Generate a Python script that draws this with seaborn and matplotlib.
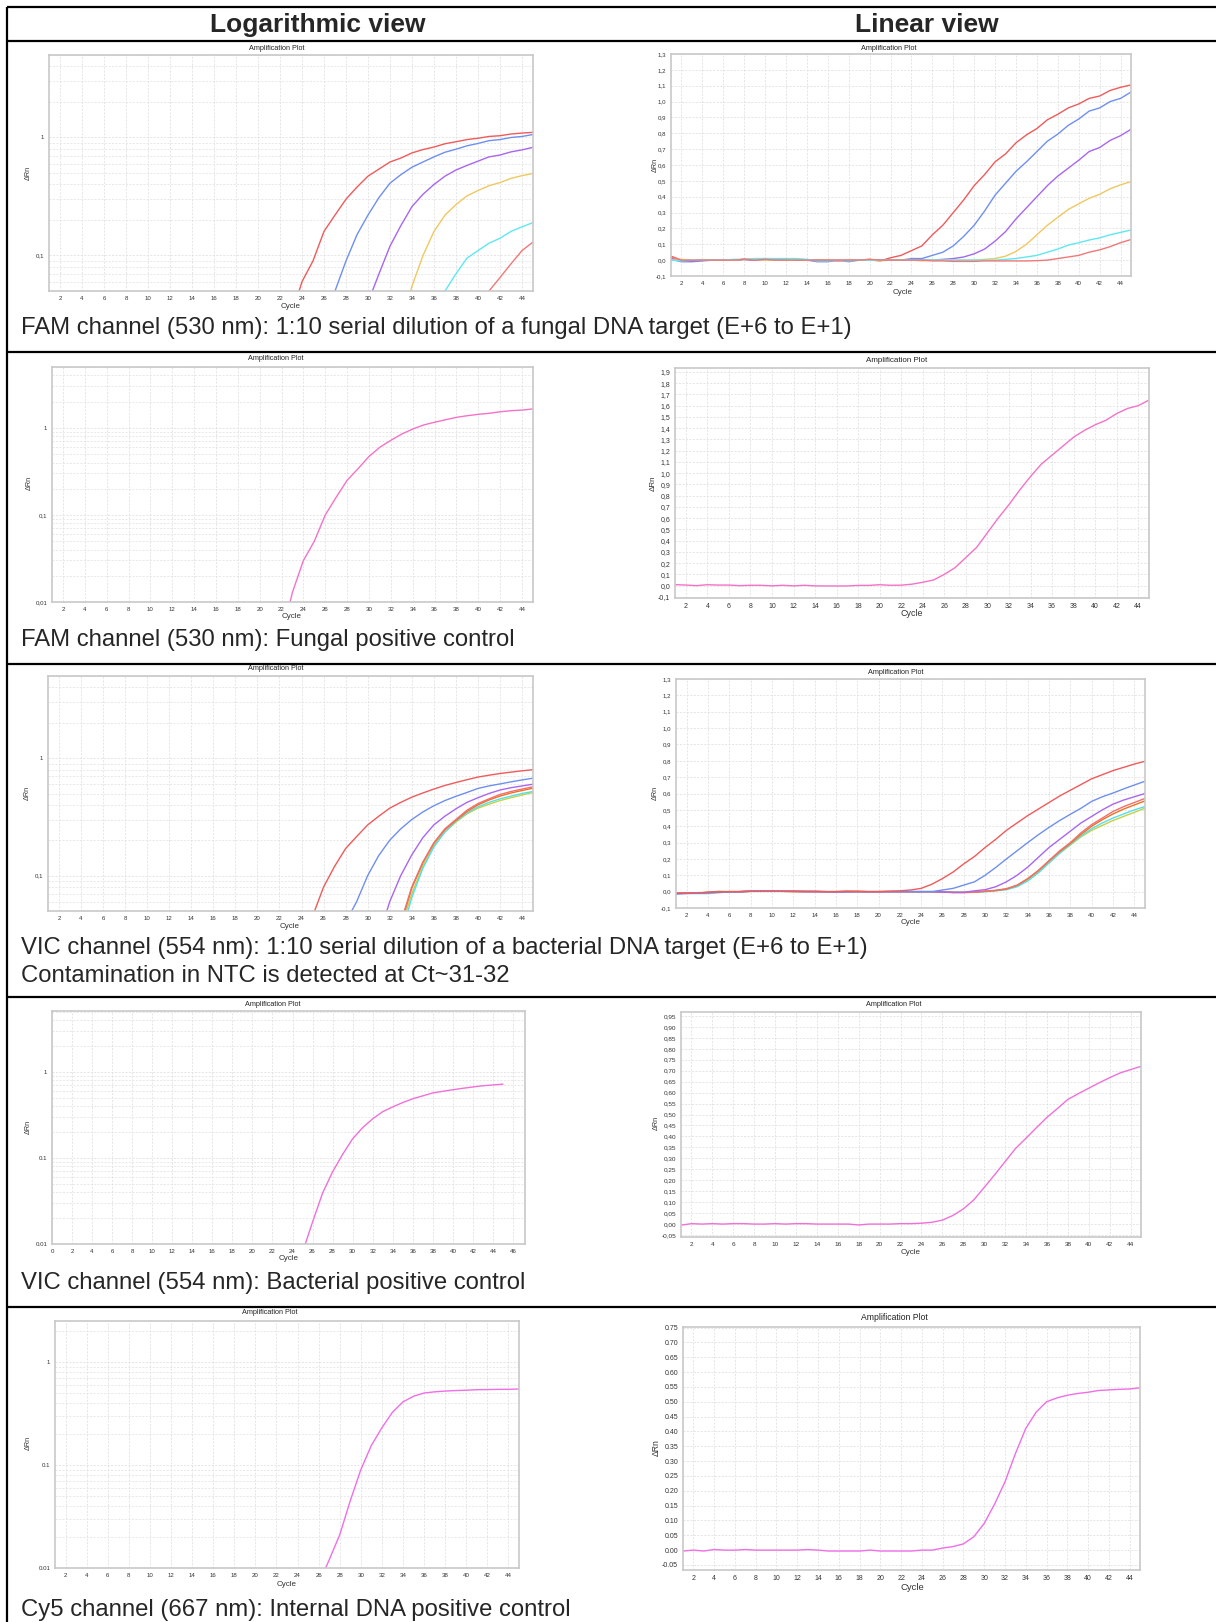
import numpy as np
import pandas as pd
import matplotlib
matplotlib.use("Agg")
import matplotlib.pyplot as plt
import seaborn as sns
from matplotlib.ticker import MultipleLocator, FixedLocator, LogLocator, FuncFormatter, NullFormatter

# cycles 1..45
cycles = list(range(1, 46))

# FAM channel, fungal 1:10 dilution (E+6 .. E+1)
fam_e6 = [0.025, 0.0, -0.005, 0.0, 0.0, 0.0, 0.0, 0.005, 0.0, 0.005,
          0.0, 0.005, 0.0, 0.0, 0.0, 0.0, -0.005, 0.0, 0.0, 0.005,
          -0.005, 0.015, 0.03, 0.06, 0.09, 0.16, 0.22, 0.30, 0.38, 0.47,
          0.54, 0.62, 0.67, 0.74, 0.79, 0.83, 0.885, 0.92, 0.96, 0.985,
          1.02, 1.035, 1.07, 1.09, 1.105]
fam_e5 = [0.005, -0.01, -0.01, -0.005, 0.0, 0.0, 0.0, 0.005, 0.005, 0.005,
          0.005, 0.005, 0.005, 0.0, -0.01, -0.01, 0.0, -0.01, 0.0, 0.0,
          0.0, 0.0, 0.0, 0.01, 0.01, 0.03, 0.05, 0.09, 0.15, 0.22,
          0.31, 0.41, 0.485, 0.56, 0.62, 0.685, 0.75, 0.795, 0.85, 0.89,
          0.94, 0.96, 1.0, 1.02, 1.06]
fam_e4 = [0.01, 0.0, -0.005, 0.0, 0.0, 0.0, 0.0, 0.005, 0.0, 0.005,
          0.005, 0.005, 0.0, 0.0, 0.0, 0.0, 0.0, 0.0, 0.0, 0.0,
          0.0, 0.0, 0.0, 0.0, 0.0, 0.0, 0.005, 0.01, 0.02, 0.04,
          0.07, 0.12, 0.18, 0.26, 0.33, 0.40, 0.47, 0.53, 0.58, 0.63,
          0.685, 0.71, 0.755, 0.785, 0.825]
fam_e3 = [0.0, 0.005, 0.0, 0.0, 0.0, 0.0, 0.0, 0.005, 0.005, 0.0,
          0.0, 0.0, 0.005, 0.0, 0.0, 0.0, 0.0, 0.0, 0.0, 0.0,
          -0.005, 0.0, 0.0, 0.0, -0.005, 0.0, 0.0, 0.0, 0.0, 0.0,
          0.005, 0.01, 0.025, 0.055, 0.10, 0.16, 0.22, 0.27, 0.32, 0.355,
          0.39, 0.415, 0.45, 0.475, 0.495]
fam_e2 = [0.0, -0.005, 0.0, 0.0, 0.0, 0.0, 0.005, 0.005, 0.01, 0.01,
          0.01, 0.01, 0.01, 0.005, -0.005, -0.005, 0.0, -0.005, 0.0, 0.0,
          0.0, 0.0, 0.0, 0.0, 0.0, 0.0, 0.0, 0.0, 0.0, 0.0,
          0.0, 0.0, 0.005, 0.01, 0.02, 0.03, 0.05, 0.07, 0.095, 0.11,
          0.127, 0.14, 0.16, 0.175, 0.19]
fam_e1 = [0.02, 0.0, 0.0, 0.0, 0.0, 0.0, 0.0, 0.005, 0.0, 0.005,
          0.0, 0.0, 0.0, 0.0, 0.0, 0.0, 0.0, 0.0, 0.0, 0.005,
          0.0, 0.0, 0.0, 0.0, 0.0, -0.005, -0.005, -0.008, -0.008, -0.008,
          -0.005, -0.005, -0.005, -0.005, -0.005, -0.003, 0.0, 0.01, 0.02, 0.03,
          0.05, 0.065, 0.085, 0.11, 0.13]

# FAM channel, fungal positive control
fam_pc = [0.009, 0.005, 0.0, 0.008, 0.005, 0.005, 0.0, 0.003, 0.003, -0.002,
          0.003, -0.002, 0.003, -0.002, -0.003, -0.003, -0.003, 0.002, 0.002, 0.008,
          0.003, 0.004, 0.013, 0.03, 0.05, 0.1, 0.16, 0.25, 0.34, 0.47,
          0.6, 0.72, 0.85, 0.97, 1.08, 1.16, 1.24, 1.32, 1.38, 1.43,
          1.47, 1.53, 1.575, 1.6, 1.65]

# VIC channel, bacterial 1:10 dilution + NTC
vic_e6 = [-0.01, -0.01, -0.008, -0.005, -0.003, 0.0, 0.0, 0.002, 0.003, 0.003,
          0.002, 0.002, 0.002, 0.002, 0.0, 0.0, 0.002, 0.0, 0.0, 0.0,
          0.003, 0.005, 0.01, 0.02, 0.045, 0.08, 0.12, 0.17, 0.215, 0.27,
          0.32, 0.375, 0.42, 0.465, 0.505, 0.545, 0.585, 0.62, 0.655, 0.69,
          0.715, 0.74, 0.76, 0.78, 0.797]
vic_e5 = [-0.015, -0.012, -0.01, -0.008, -0.005, -0.003, 0.0, 0.003, 0.003, 0.003,
          0.002, 0.002, 0.002, 0.002, 0.0, 0.0, 0.0, 0.0, 0.0, 0.0,
          0.0, 0.0, 0.0, 0.0, 0.0, 0.01, 0.02, 0.04, 0.06, 0.10,
          0.148, 0.2, 0.25, 0.30, 0.348, 0.393, 0.435, 0.473, 0.51, 0.552,
          0.58, 0.603, 0.628, 0.652, 0.675]
vic_e4 = [-0.01, -0.01, -0.008, -0.005, -0.002, 0.0, 0.0, 0.002, 0.002, 0.002,
          0.002, 0.002, 0.0, 0.0, 0.0, -0.002, -0.002, 0.0, 0.0, 0.0,
          0.0, 0.0, 0.0, 0.0, 0.0, -0.002, -0.004, -0.004, 0.005, 0.012,
          0.03, 0.06, 0.10, 0.15, 0.21, 0.27, 0.32, 0.37, 0.42, 0.46,
          0.5, 0.535, 0.56, 0.58, 0.6]
vic_e3 = [-0.01, -0.008, -0.008, -0.005, -0.002, 0.0, 0.0, 0.002, 0.002, 0.003,
          0.002, 0.0, 0.0, 0.0, 0.0, -0.002, 0.0, 0.002, 0.0, 0.0,
          0.0, 0.0, 0.0, 0.0, 0.0, -0.003, -0.006, -0.006, -0.004, 0.003,
          0.008, 0.018, 0.04, 0.08, 0.13, 0.19, 0.25, 0.30, 0.36, 0.41,
          0.45, 0.49, 0.52, 0.545, 0.57]
vic_e2 = [-0.012, -0.01, -0.008, -0.004, 0.0, 0.0, 0.0, 0.002, 0.002, 0.002,
          0.002, 0.002, 0.0, 0.0, 0.0, 0.0, 0.002, 0.002, 0.0, 0.0,
          0.0, 0.0, 0.0, 0.0, 0.0, -0.002, -0.005, -0.005, -0.003, 0.002,
          0.007, 0.016, 0.038, 0.078, 0.128, 0.188, 0.245, 0.295, 0.35, 0.4,
          0.44, 0.475, 0.505, 0.53, 0.555]
vic_e1 = [-0.008, -0.01, -0.012, -0.012, -0.006, -0.002, 0.0, 0.002, 0.002, 0.002,
          0.002, 0.002, 0.002, 0.0, 0.0, 0.0, 0.002, 0.0, 0.0, 0.0,
          0.0, 0.0, 0.0, 0.0, 0.0, -0.002, -0.004, -0.004, -0.003, 0.0,
          0.005, 0.012, 0.03, 0.065, 0.115, 0.175, 0.235, 0.29, 0.34, 0.385,
          0.42, 0.45, 0.475, 0.5, 0.52]
vic_ntc = [-0.01, -0.008, -0.006, -0.004, 0.003, 0.0, 0.0, 0.002, 0.002, 0.003,
           0.002, 0.0, 0.0, 0.0, 0.0, 0.0, 0.0, 0.0, 0.0, 0.0,
           0.0, 0.0, 0.0, 0.0, 0.0, -0.002, -0.004, -0.004, -0.003, 0.001,
           0.006, 0.015, 0.035, 0.07, 0.12, 0.18, 0.235, 0.285, 0.335, 0.375,
           0.405, 0.435, 0.46, 0.485, 0.51]

# VIC channel, bacterial positive control
vic_pc = [-0.005, 0.002, 0.0, 0.002, 0.0, 0.002, 0.002, 0.0, 0.0, 0.002,
          0.0, 0.002, 0.002, 0.0, 0.0, 0.0, 0.0, -0.004, 0.0, 0.0,
          0.0, 0.002, 0.002, 0.004, 0.008, 0.018, 0.039, 0.069, 0.11, 0.167,
          0.225, 0.285, 0.345, 0.392, 0.44, 0.487, 0.527, 0.569, 0.595, 0.62,
          0.645, 0.668, 0.69, 0.705, 0.72]

# Cy5 channel, internal positive control
cy5_ipc = [-0.003, 0.0, -0.003, 0.002, 0.0, 0.0, 0.002, 0.0, 0.0, 0.0,
           0.0, 0.0, 0.002, 0.0, -0.003, -0.003, -0.003, -0.003, 0.0, -0.003,
           -0.003, -0.003, -0.003, 0.0, 0.0, 0.007, 0.012, 0.021, 0.045, 0.09,
           0.155, 0.23, 0.325, 0.41, 0.465, 0.5, 0.513, 0.522, 0.528, 0.532,
           0.538, 0.54, 0.542, 0.543, 0.547]

fam_colors = {"E+6": "#f05a5a", "E+5": "#6f8ff0", "E+4": "#a866f0",
              "E+3": "#f0c860", "E+2": "#5ee8f0", "E+1": "#f07878"}
vic_colors = {"E+6": "#f05a5a", "E+5": "#6f8ff0", "E+4": "#a866f0",
              "E+3": "#f07070", "E+2": "#f07020", "E+1": "#50e0f0", "NTC": "#c8d040"}

captions = ["FAM channel (530 nm): 1:10 serial dilution of a fungal DNA target (E+6 to E+1)",
            "FAM channel (530 nm): Fungal positive control",
            "VIC channel (554 nm): 1:10 serial dilution of a bacterial DNA target (E+6 to E+1)\n"
            "Contamination in NTC is detected at Ct~31-32",
            "VIC channel (554 nm): Bacterial positive control",
            "Cy5 channel (667 nm): Internal DNA positive control"]


def long_frame(series):
    parts = [pd.DataFrame({"Cycle": cycles, "dRn": v, "Well": k}) for k, v in series.items()]
    return pd.concat(parts, ignore_index=True)


fam_dil = long_frame({"E+6": fam_e6, "E+5": fam_e5, "E+4": fam_e4,
                      "E+3": fam_e3, "E+2": fam_e2, "E+1": fam_e1})
fam_ctrl = long_frame({"PC": fam_pc})
vic_dil = long_frame({"NTC": vic_ntc, "E+1": vic_e1, "E+2": vic_e2, "E+3": vic_e3,
                      "E+4": vic_e4, "E+5": vic_e5, "E+6": vic_e6})
vic_ctrl = long_frame({"PC": vic_pc})
cy5_ctrl = long_frame({"IPC": cy5_ipc})

sns.set_style("white")
plt.rcParams["font.family"] = ["Liberation Sans", "DejaVu Sans"]

W, H = 1216, 1622
fig = plt.figure(figsize=(W / 100, H / 100), dpi=100)

# page / table layer in pixel units
bg = fig.add_axes([0, 0, 1, 1])
bg.set_xlim(0, W)
bg.set_ylim(H, 0)
bg.axis("off")
for yy in [7, 41, 352, 664, 997, 1307]:
    bg.plot([7, W], [yy, yy], color="black", lw=1.6, solid_capstyle="butt")
bg.plot([7, 7], [7, H], color="black", lw=1.6, solid_capstyle="butt")
bg.text(318, 25, "Logarithmic view", fontsize=19, fontweight="bold", ha="center", va="center")
bg.text(927, 25, "Linear view", fontsize=19, fontweight="bold", ha="center", va="center")
for (cy, txt) in zip([328, 640, 962, 1283, 1610], captions):
    bg.text(21, cy, txt, fontsize=17.2, ha="left", va="center", linespacing=1.4)


def comma(fmt):
    def f(v, pos):
        s = fmt.format(v + 0.0)
        if s.startswith("-") and float(s) == 0:
            s = s[1:]
        return s.replace(".", ",")
    return FuncFormatter(f)


def dot(fmt):
    def f(v, pos):
        s = fmt.format(v + 0.0)
        if s.startswith("-") and float(s) == 0:
            s = s[1:]
        return s
    return FuncFormatter(f)


def panel(box, frame, colors, log, ylim, xlim, xticks, fmt, step=None,
          labels=None, tsize=4.4, title_xy=None, cycle_xy=None, drn_xy=None, lsize=5.2):
    x0, y0, x1, y1 = box
    ax = fig.add_axes([x0 / W, 1 - y1 / H, (x1 - x0) / W, (y1 - y0) / H])
    sns.lineplot(data=frame, x="Cycle", y="dRn", hue="Well", palette=colors, ax=ax,
                 legend=False, lw=1.0, estimator=None, errorbar=None)
    if log:
        ax.set_yscale("log")
        ax.yaxis.set_major_locator(FixedLocator([v for v in [0.01, 0.1, 1] if ylim[0] <= v <= ylim[1]]))
        ax.yaxis.set_major_formatter(FuncFormatter(lambda v, p: labels.get(round(v, 3), "")))
        ax.yaxis.set_minor_locator(LogLocator(base=10, subs=np.arange(2, 10)))
        ax.yaxis.set_minor_formatter(NullFormatter())
        ax.grid(True, which="minor", axis="y", color="#e0e0e0", lw=0.5, ls=(0, (3, 2)))
    else:
        ax.yaxis.set_major_locator(MultipleLocator(step))
        ax.yaxis.set_major_formatter(fmt)
    ax.set_ylim(*ylim)
    ax.set_xlim(*xlim)
    ax.xaxis.set_major_locator(FixedLocator(xticks))
    ax.grid(True, which="major", axis="both", color="#dcdcdc", lw=0.5, ls=(0, (3, 2)))
    ax.tick_params(axis="both", which="major", labelsize=tsize, length=2, width=0.5,
                   colors="#777777", labelcolor="#333333", pad=1.5)
    ax.tick_params(axis="y", which="minor", length=0)
    for sp in ax.spines.values():
        sp.set_color("#c8c8c8")
        sp.set_linewidth(1.2)
    ax.set_xlabel("")
    ax.set_ylabel("")
    bg.text(*title_xy, "Amplification Plot", fontsize=lsize, ha="center", va="center", color="#222222")
    bg.text(*cycle_xy, "Cycle", fontsize=lsize + 0.6, ha="center", va="center", color="#333333")
    bg.text(*drn_xy, "ΔRn", fontsize=lsize, ha="center", va="center", rotation=90, color="#333333")
    return ax


even = list(range(2, 45, 2))
log_comma = {1: "1", 0.1: "0,1", 0.01: "0,01"}
log_dot = {1: "1", 0.1: "0.1", 0.01: "0.01"}

# row 1
panel((49, 55, 533, 291), fam_dil, fam_colors, True, (0.05, 5), (1, 45), even, None,
      labels=log_comma, title_xy=(277, 48), cycle_xy=(291, 307), drn_xy=(28, 173))
panel((671, 54, 1131, 276), fam_dil, fam_colors, False, (-0.1, 1.3), (1, 45), even,
      comma("{:.1f}"), step=0.1, title_xy=(889, 48), cycle_xy=(903, 292), drn_xy=(655, 165))
# row 2
panel((52, 367, 533, 602), fam_ctrl, ["#f472c8"], True, (0.01, 5), (1, 45), even, None,
      labels=log_comma, title_xy=(276, 359), cycle_xy=(292, 617), drn_xy=(29, 483))
panel((675, 368, 1149, 598), fam_ctrl, ["#f472c8"], False, (-0.11, 1.935), (1, 45), even,
      comma("{:.1f}"), step=0.1, tsize=5.0, title_xy=(897, 361), cycle_xy=(912, 614),
      drn_xy=(653, 483), lsize=5.8)
# row 3
panel((48, 676, 533, 911), vic_dil, vic_colors, True, (0.05, 5), (1, 45), even, None,
      labels=log_comma, title_xy=(276, 669), cycle_xy=(290, 927), drn_xy=(27, 793))
panel((676, 679, 1145, 908), vic_dil, vic_colors, False, (-0.1, 1.3), (1, 45), even,
      comma("{:.1f}"), step=0.1, title_xy=(896, 673), cycle_xy=(911, 923), drn_xy=(655, 793))
# row 4
panel((52, 1011, 525, 1244), vic_ctrl, ["#f070d8"], True, (0.01, 5.1), (0, 47.2),
      list(range(0, 47, 2)), None, labels=log_dot, title_xy=(273, 1004),
      cycle_xy=(289, 1259), drn_xy=(28, 1127))
panel((681, 1012, 1141, 1237), vic_ctrl, ["#f070d8"], False, (-0.059, 0.968), (1, 45), even,
      comma("{:.2f}"), step=0.05, tsize=4.6, title_xy=(894, 1004), cycle_xy=(911, 1253),
      drn_xy=(656, 1123))
# row 5
panel((55, 1321, 519, 1568), cy5_ctrl, ["#f06ee6"], True, (0.01, 2.5), (1, 45), even, None,
      labels=log_dot, title_xy=(270, 1313), cycle_xy=(287, 1585), drn_xy=(28, 1443))
panel((683, 1327, 1140, 1570), cy5_ctrl, ["#f06ee6"], False, (-0.067, 0.752), (1, 45), even,
      dot("{:.2f}"), step=0.05, tsize=5.0, title_xy=(894, 1318), cycle_xy=(912, 1587),
      drn_xy=(656, 1448), lsize=6.2)

fig.savefig("out.png", dpi=100)
